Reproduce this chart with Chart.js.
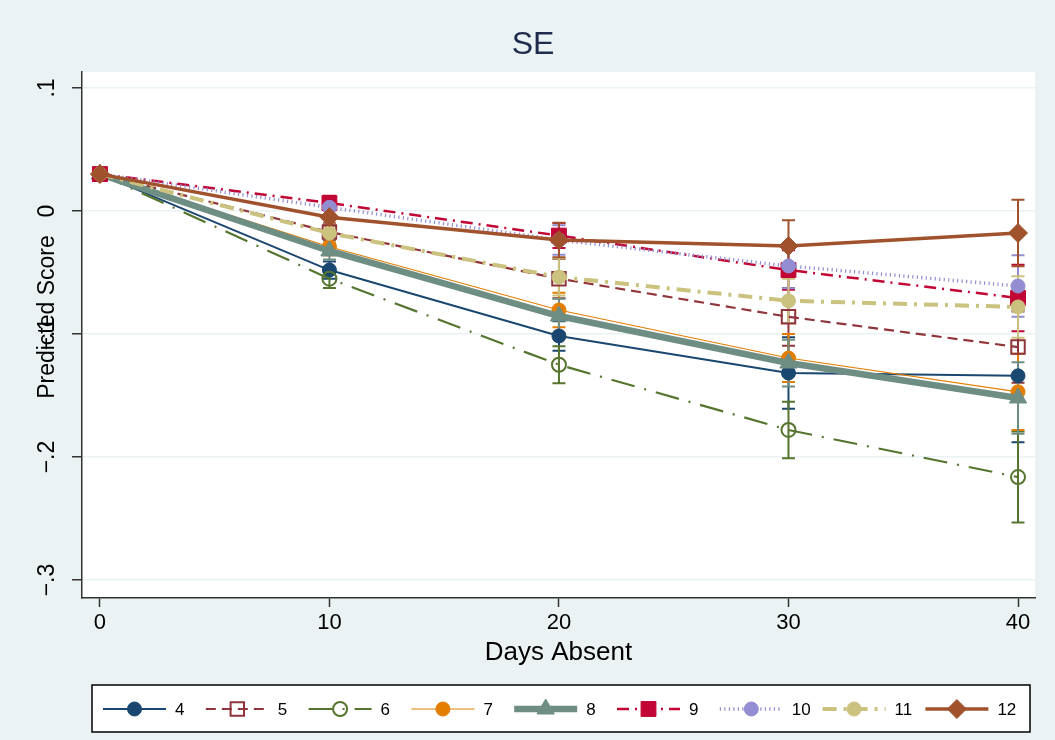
<!DOCTYPE html>
<html><head><meta charset="utf-8">
<script src="https://cdn.jsdelivr.net/npm/chart.js@4.4.1/dist/chart.umd.min.js"></script>
<style>html,body{margin:0;padding:0;background:#eaf2f3;} canvas{display:block;}</style>
</head><body>
<canvas id="c" width="1055" height="740"></canvas>
<script>
// ---- data ----
const days = [0, 10, 20, 30, 40];
const xTickValues = [0, 10, 20, 30, 40];
const xTickLabels = ['0', '10', '20', '30', '40'];
const yTickValues = [-0.3, -0.2, -0.1, 0, 0.1];
const yTickLabels = ['\u2212.3', '\u2212.2', '\u2212.1', '0', '.1'];
const seriesLabels = ['4', '5', '6', '7', '8', '9', '10', '11', '12'];
const yTitle = 'Predicted Score';

const g4  = [0.030, -0.048,  -0.1016, -0.1317, -0.134];
const g5  = [0.030, -0.017,  -0.055,  -0.086,  -0.1106];
const g6  = [0.030, -0.055,  -0.125,  -0.178,  -0.2163];
const g7  = [0.030, -0.029,  -0.0805, -0.1195, -0.147];
const g8  = [0.030, -0.0325, -0.0854, -0.1236, -0.152];
const g9  = [0.030,  0.0065, -0.020,  -0.048,  -0.0707];
const g10 = [0.030,  0.003,  -0.0236, -0.0447, -0.061];
const g11 = [0.030, -0.018,  -0.0537, -0.073,  -0.078];
const g12 = [0.030, -0.005,  -0.0236, -0.0285, -0.0179];

// confidence-interval half widths
const e4  = [0, 0.007, 0.012, 0.029, 0.054];
const e5  = [0, 0.007, 0.016, 0.0235, 0.029];
const e6  = [0, 0.0075, 0.015, 0.023, 0.037];
const e7  = [0, 0.007, 0.014, 0.0195, 0.031];
const e8  = [0, 0.007, 0.014, 0.019, 0.029];
const e9  = [0, 0.006, 0.010, 0.016, 0.027];
const e10 = [0, 0.006, 0.012, 0.018, 0.025];
const e11 = [0, 0.007, 0.015, 0.018, 0.025];
const e12 = [0, 0.007, 0.014, 0.021, 0.027];

const values = [g4, g5, g6, g7, g8, g9, g10, g11, g12];
const errors = [e4, e5, e6, e7, e8, e9, e10, e11, e12];

// ---- styles ----
const colors = ['#1a476f', '#90353b', '#55752f', '#e37e00', '#6e8e84', '#c10534', '#938dd2', '#cac27e', '#a0522d'];
const widths = [2, 2.2, 2.2, 1.1, 6.5, 2.5, 3.5, 4, 3.5];
const dashes = [[], [10, 6], [24, 10, 2, 10], [], [], [12, 6, 2, 6], [1.2, 3.3], [14, 7, 3, 7], []];
const styles = ['circle', 'rect', 'circle', 'circle', 'triangle', 'rect', 'circle', 'circle', 'rectRot'];
const radii = [7, 9.5, 7, 7, 10, 10.5, 7, 7, 9.5];
const hollow = [false, true, true, false, false, false, false, false, false];

const FONT = '"Liberation Sans", Arial, Helvetica, sans-serif';

const datasets = seriesLabels.map((lab, i) => ({
  label: lab,
  data: days.map((d, k) => ({x: d, y: values[i][k]})),
  errors: errors[i],
  borderColor: colors[i],
  borderWidth: widths[i],
  borderDash: dashes[i],
  pointStyle: styles[i],
  pointRadius: radii[i],
  pointHoverRadius: radii[i],
  pointBackgroundColor: hollow[i] ? 'rgba(0,0,0,0)' : colors[i],
  pointBorderColor: colors[i],
  pointBorderWidth: hollow[i] ? 2 : 1,
  tension: 0,
  fill: false,
  order: -i
}));

const plotBg = {
  id: 'plotBg',
  beforeDraw(chart) {
    const {ctx, chartArea: a} = chart;
    ctx.save();
    ctx.fillStyle = '#eaf2f3';
    ctx.fillRect(0, 0, chart.width, chart.height);
    ctx.fillStyle = '#ffffff';
    ctx.fillRect(a.left, a.top, a.right - a.left, a.bottom - a.top);
    ctx.restore();
  }
};

const errorBars = {
  id: 'errorBars',
  beforeDatasetsDraw(chart) {
    const {ctx, scales: {x, y}} = chart;
    chart.data.datasets.forEach((ds, i) => {
      ctx.save();
      ctx.strokeStyle = ds.borderColor;
      ctx.lineWidth = 2;
      ctx.setLineDash([]);
      ds.data.forEach((p, j) => {
        const e = ds.errors[j];
        if (!e) return;
        const px = x.getPixelForValue(p.x);
        const top = y.getPixelForValue(p.y + e);
        const bot = y.getPixelForValue(p.y - e);
        ctx.beginPath();
        ctx.moveTo(px, top); ctx.lineTo(px, bot);
        ctx.moveTo(px - 6.5, top); ctx.lineTo(px + 6.5, top);
        ctx.moveTo(px - 6.5, bot); ctx.lineTo(px + 6.5, bot);
        ctx.stroke();
      });
      ctx.restore();
    });
  }
};

// y-axis title, placed like Stata (slightly above the plot centre)
const yAxisTitle = {
  id: 'yAxisTitle',
  afterDraw(chart) {
    const {ctx, chartArea: a} = chart;
    ctx.save();
    ctx.translate(48, (a.top + a.bottom) / 2 - 18);
    ctx.rotate(-Math.PI / 2);
    ctx.fillStyle = '#000';
    ctx.font = '23px ' + FONT;
    ctx.textAlign = 'center';
    ctx.textBaseline = 'middle';
    ctx.fillText(yTitle, 0, 0);
    ctx.restore();
  }
};

function drawMarker(ctx, ds, x, y) {
  ctx.fillStyle = ds.pointBackgroundColor;
  ctx.strokeStyle = ds.pointBorderColor;
  ctx.lineWidth = ds.pointBorderWidth;
  if (Chart.helpers && Chart.helpers.drawPoint) {
    Chart.helpers.drawPoint(ctx, {pointStyle: ds.pointStyle, radius: ds.pointRadius, rotation: 0, borderWidth: ds.pointBorderWidth}, x, y);
  } else {
    ctx.beginPath(); ctx.arc(x, y, ds.pointRadius, 0, Math.PI * 2); ctx.fill(); ctx.stroke();
  }
}

const stataLegend = {
  id: 'stataLegend',
  afterDraw(chart) {
    const ctx = chart.ctx;
    const L = 92, T = 685, R = 1030, B = 732, cy = 709;
    ctx.save();
    ctx.fillStyle = '#ffffff';
    ctx.fillRect(L, T, R - L, B - T);
    ctx.strokeStyle = '#000';
    ctx.lineWidth = 1.5;
    ctx.strokeRect(L, T, R - L, B - T);
    chart.data.datasets.forEach((ds, i) => {
      const x0 = 103 + i * 102.8;
      ctx.strokeStyle = ds.borderColor;
      ctx.lineWidth = ds.borderWidth;
      ctx.setLineDash(ds.borderDash || []);
      ctx.beginPath(); ctx.moveTo(x0, cy); ctx.lineTo(x0 + 63, cy); ctx.stroke();
      ctx.setLineDash([]);
      drawMarker(ctx, ds, x0 + 31.5, cy);
      ctx.fillStyle = '#000';
      ctx.font = '17px ' + FONT;
      ctx.textBaseline = 'middle';
      ctx.textAlign = 'left';
      ctx.fillText(ds.label, x0 + 72, cy + 1);
    });
    ctx.restore();
  }
};

new Chart(document.getElementById('c'), {
  type: 'line',
  data: {datasets},
  plugins: [plotBg, errorBars, yAxisTitle, stataLegend],
  options: {
    responsive: false,
    devicePixelRatio: 1,
    animation: false,
    events: [],
    layout: {padding: {left: 31, right: 20, top: 0, bottom: 62}},
    plugins: {
      legend: {display: false},
      tooltip: {enabled: false},
      title: {
        display: true, text: 'SE', color: '#1e2b4d',
        font: {family: FONT, size: 32, weight: 'normal'},
        padding: {top: 25.8, bottom: 7.8}
      }
    },
    scales: {
      x: {
        type: 'linear', min: -0.78, max: 40.74,
        afterBuildTicks: s => { s.ticks = xTickValues.map(v => ({value: v})); },
        afterFit: s => { s.height = 80; },
        ticks: {
          color: '#000', padding: 3, maxRotation: 0,
          font: {family: FONT, size: 22},
          callback: v => xTickLabels[xTickValues.indexOf(v)]
        },
        grid: {drawOnChartArea: false, drawTicks: true, tickLength: 9, tickColor: '#333', tickWidth: 1.5},
        border: {display: true, color: '#333', width: 1.5},
        title: {display: true, text: 'Days Absent', color: '#000', font: {family: FONT, size: 26}, padding: {top: 0, bottom: 9.4}}
      },
      y: {
        type: 'linear', min: -0.3146, max: 0.113,
        afterBuildTicks: s => { s.ticks = yTickValues.map(v => ({value: v})); },
        afterFit: s => { s.width = 51; },
        ticks: {
          color: '#000', padding: 8, minRotation: 90, maxRotation: 90, crossAlign: 'center',
          font: {family: FONT, size: 23},
          callback: v => { const k = yTickValues.findIndex(t => Math.abs(t - v) < 1e-9); return k >= 0 ? yTickLabels[k] : ''; }
        },
        grid: {color: '#eaf2f3', lineWidth: 1.5, drawTicks: true, tickLength: 10, tickColor: '#333', tickWidth: 1.5},
        border: {display: true, color: '#333', width: 1.5},
        title: {display: false}
      }
    }
  }
});
</script>
</body></html>
